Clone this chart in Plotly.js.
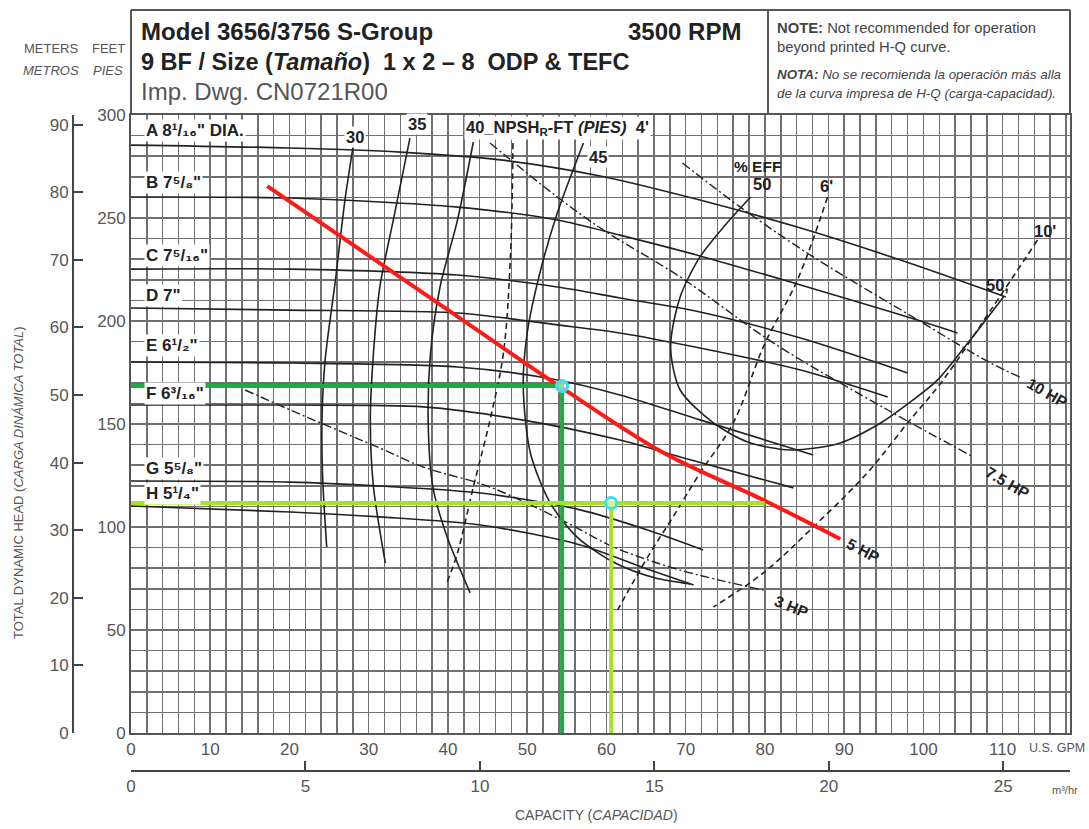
<!DOCTYPE html>
<html>
<head>
<meta charset="utf-8">
<script src="https://cdn.plot.ly/plotly-3.0.1.min.js"></script>
<style>html,body{margin:0;padding:0;background:#fff;}#chart{width:1089px;height:829px;}</style>
</head>
<body>
<div id="chart"></div>
<script>
// ---------- DATA (capacity in U.S. GPM, head in feet) ----------
const hqLabels = ['A 8¹/₁₆" DIA.', 'B 7⁵/₈"', 'C 7⁵/₁₆"', 'D 7"', 'E 6¹/₂"', 'F 6³/₁₆"', 'G 5⁵/₈"', 'H 5¹/₄"'];
const hqLabelHead = [292.7, 267, 232, 212.6, 188.3, 165, 128.6, 116.5];

const aQ = [0, 20, 34, 46.6, 59.2, 71.8, 84.5, 97.1, 110.4];
const aH = [285.4, 284, 282, 278.2, 270.4, 258.7, 245.1, 229.6, 211.7];
const bQ = [0, 20.1, 41.2, 53.8, 61.7, 71.8, 84.5, 97.1, 104.3];
const bH = [260.2, 259.7, 255.3, 249, 241.7, 231.6, 217.5, 203, 194.2];
const cQ = [0, 20.1, 41.2, 53.8, 61.7, 71.8, 84.5, 98.0];
const cH = [225.2, 225.2, 222.3, 216.5, 211.2, 204.4, 191.7, 174.8];
const dQ = [0, 20.1, 41.2, 53.8, 61.7, 71.8, 84.5, 95.5];
const dH = [206.3, 205.3, 203.9, 198.1, 194.2, 186.9, 176.2, 163.1];
const eQ = [0, 20.1, 41.2, 52.5, 61.7, 71.8, 86.1];
const eH = [180.1, 179.6, 177.7, 172.3, 164.1, 152, 135];
const fQ = [0, 20.1, 36.9, 49.5, 61.7, 69.3, 83.6];
const fH = [159.2, 159.2, 158.3, 151.9, 142.2, 134, 119];
const gQ = [0, 20.1, 31.4, 44.1, 56.7, 65.2, 72.2];
const gH = [122.3, 121.8, 119.9, 116.5, 108.3, 98.5, 88.8];
const hQ = [0, 20.1, 31.4, 44.1, 56.7, 65.5, 71];
const hH = [110.2, 107.3, 104.9, 101, 91.3, 79.1, 71.8];

// efficiency curves (%)
const eff30Q = [28.0, 27.0, 25.8, 24.5, 24.1, 24.2, 24.7];
const eff30H = [284, 258.7, 219.9, 181.1, 151.9, 122.8, 90.3];
const eff35Q = [35.2, 33.1, 31.4, 30.6, 30.2, 30.6, 32.1];
const eff35H = [288.8, 249, 216.5, 184.5, 151.9, 119.4, 82.5];
const eff40Q = [43.2, 41.2, 39.0, 37.8, 37.5, 38.1, 39.9, 42.8];
const eff40H = [286.9, 249, 216.5, 184.5, 151.9, 119.4, 95.1, 68.0];
const eff45Q = [57.1, 53.8, 51.6, 50, 49.5, 50.4, 52.9, 56.3, 61.1, 66.2, 70.6];
const eff45H = [286.4, 252.4, 223.3, 194.2, 168, 135.9, 111.7, 95.1, 82.5, 75.2, 72.3];
const eff50Q = [78.2, 75, 71.8, 69.3, 68.1, 69.3, 73.5, 77.8, 83.2, 89.5, 94.6, 98.7, 101.8, 105.6, 110.1];
const eff50H = [260.2, 246.6, 231.1, 211.7, 187.4, 166.5, 150.5, 141.3, 137.4, 140.8, 150.5, 161.7, 171.4, 189.3, 211.7];

// NPSHr curves (ft)
const npsh4Q = [48.2, 47.9, 47, 45.3, 43.2, 41.2, 39.9];
const npsh4H = [286.4, 233, 184.5, 151.9, 119.4, 87.4, 73.3];
const npsh6Q = [87.9, 84.1, 79.9, 76.0, 71.8, 68.4, 65.2, 61.4];
const npsh6H = [260.2, 219.9, 188.3, 150.5, 126.2, 104.9, 85.4, 59.7];
const npsh10Q = [114.4, 108.5, 102.5, 98.0, 92.9, 86.1, 79.8, 73.5];
const npsh10H = [239.3, 205.3, 171.4, 150.5, 126.2, 100, 77.7, 61.2];

// horsepower curves
const hp10Q = [69.6, 76.9, 86.1, 98.7, 108.5, 112.2];
const hp10H = [276.7, 255.3, 231.1, 201.9, 179.6, 172.8];
const hp75Q = [45.3, 53.8, 59.6, 69.3, 81.1, 95.5, 106.3];
const hp75H = [286.4, 260.2, 244.2, 221.4, 189.3, 156.8, 134];
const hp5Q = [17.2, 43.7, 54.2, 67.2, 79.8, 89.5];
const hp5H = [265.5, 195.6, 168, 136, 113.1, 94.2];
const hp3Q = [14.4, 20.1, 31.4, 36.9, 45.3, 55.1, 60.9, 69.3, 79.8];
const hp3H = [166.5, 156.8, 138.3, 129.1, 119.4, 101.9, 90.3, 79.1, 69.4];

// operating-point markups
const dutyDarkQ = [0, 54.4, 54.4];
const dutyDarkH = [168.4, 168.4, 0];
const dutyLightQ = [0, 80, null, 60.6, 60.6];
const dutyLightH = [111.7, 111.7, null, 111.7, 0];
const pointQ = [54.4, 60.6];
const pointH = [168.4, 111.7];

const gpmTicks = [0, 10, 20, 30, 40, 50, 60, 70, 80, 90, 100, 110];
const m3hTicks = [0, 5, 10, 15, 20, 25];
const feetTicks = [0, 50, 100, 150, 200, 250, 300];
const meterTicks = [0, 10, 20, 30, 40, 50, 60, 70, 80, 90];

const GPM_MAX = 118.5, FT_MAX = 300;
const GPM_GRID_STEP = 2, FT_GRID_STEP = 10;
const FT_PER_M = 3.28084, M3H_PER_GPM = 0.227125;

// ---------- LAYOUT HELPERS ----------
const W = 1089, H = 829, ML = 73, MR = 19, MT = 115, MB = 58;
const PW = W - ML - MR, PH = H - MT - MB;
const PX = px => (px - ML) / PW;
const PY = py => (H - MB - py) / PH;
const xDom = [PX(131), 1];
const yDom = [PY(733), 1];

// uniform grid: a tick every grid step, labelled only at the label ticks
function gridTicks(max, step, labelled) {
  const vals = [], text = [];
  for (let v = 0; v <= max + 1e-9; v += step) {
    const r = Math.round(v * 1000) / 1000;
    vals.push(r);
    text.push(labelled.indexOf(r) >= 0 ? String(r) : ' ');
  }
  return {vals, text};
}
const xg = gridTicks(GPM_MAX, GPM_GRID_STEP, gpmTicks);
const yg = gridTicks(FT_MAX, FT_GRID_STEP, feetTicks);

const SANS = '"Liberation Sans", Arial, sans-serif';
const GREY = '#555';

function curve(q, h, opt) {
  return Object.assign({
    x: q, y: h, type: 'scatter', mode: 'lines', hoverinfo: 'skip', showlegend: false,
    line: {color: '#222', width: 1.6, shape: 'spline', smoothing: 0.8}
  }, opt || {});
}
const dashDot = '9px,3px,2px,3px';
const dashed = '6px,4px';

const traces = [
  curve(aQ, aH), curve(bQ, bH), curve(cQ, cH), curve(dQ, dH),
  curve(eQ, eH), curve(fQ, fH), curve(gQ, gH), curve(hQ, hH),
  curve(eff30Q, eff30H), curve(eff35Q, eff35H), curve(eff40Q, eff40H),
  curve(eff45Q, eff45H), curve(eff50Q, eff50H),
  curve(npsh4Q, npsh4H, {line: {color: '#222', width: 1.6, dash: dashed, shape: 'spline'}}),
  curve(npsh6Q, npsh6H, {line: {color: '#222', width: 1.6, dash: dashed, shape: 'spline'}}),
  curve(npsh10Q, npsh10H, {line: {color: '#222', width: 1.6, dash: dashed, shape: 'spline'}}),
  curve(hp10Q, hp10H, {line: {color: '#222', width: 1.4, dash: dashDot, shape: 'spline'}}),
  curve(hp75Q, hp75H, {line: {color: '#222', width: 1.4, dash: dashDot, shape: 'spline'}}),
  curve(hp3Q, hp3H, {line: {color: '#222', width: 1.4, dash: dashDot, shape: 'spline'}}),
  curve(hp5Q, hp5H, {line: {color: '#ff1a1a', width: 4, shape: 'spline'}}),
  curve(dutyDarkQ, dutyDarkH, {line: {color: '#1faa45', width: 4}}),
  curve(dutyLightQ, dutyLightH, {line: {color: '#a6e22a', width: 4}}),
  {x: pointQ, y: pointH, type: 'scatter', mode: 'markers', hoverinfo: 'skip', showlegend: false,
   marker: {symbol: 'circle', size: 11, color: 'rgba(255,255,255,0.5)', line: {color: '#35e3f0', width: 3}}},
  // invisible traces to activate secondary axes
  {x: [0], y: [0], yaxis: 'y2', type: 'scatter', mode: 'markers', marker: {opacity: 0}, hoverinfo: 'skip', showlegend: false},
  {x: [0], y: [0], xaxis: 'x2', type: 'scatter', mode: 'markers', marker: {opacity: 0}, hoverinfo: 'skip', showlegend: false}
];

const gridC = '#707070';
const annotations = [];
function note(text, x, y, o) {
  annotations.push(Object.assign({text: text, x: x, y: y, showarrow: false, xref: 'x', yref: 'y',
    font: {family: SANS, size: 15, color: '#222'}}, o || {}));
}
function pnote(text, px, py, o) {
  annotations.push(Object.assign({text: text, x: PX(px), y: PY(py), showarrow: false, xref: 'paper', yref: 'paper',
    xanchor: 'left', yanchor: 'middle', font: {family: SANS, size: 15, color: '#222'}}, o || {}));
}

// impeller labels
hqLabels.forEach((t, i) => note('<b>' + t + '</b>', 1.6, hqLabelHead[i],
  {xanchor: 'left', yanchor: 'middle', bgcolor: '#fff', font: {family: SANS, size: 17, color: '#222'}}));

const bold = {family: SANS, size: 16.5, color: '#222'};
const bold2 = {family: SANS, size: 15.5, color: '#222'};
note('<b>30</b>', 28.3, 289.3, {bgcolor: '#fff', font: bold});
note('<b>35</b>', 36.1, 295.6, {bgcolor: '#fff', font: bold});
note('<b>40_NPSH<sub>R</sub>-FT <i>(PIES)</i>  4\'</b>', 42.0, 293.7, {xanchor: 'left', bgcolor: '#fff', font: bold});
note('<b>45</b>', 58.9, 279.4, {bgcolor: '#fff', font: bold});
note('<b>% EFF</b>', 79.0, 274.8, {font: bold2});
note('<b>50</b>', 79.6, 266.5, {font: bold});
note('<b>6\'</b>', 87.8, 265.5, {font: bold});
note('<b>10\'</b>', 115.3, 243.5, {font: bold});
note('<b>50,</b>', 109.3, 217.5, {font: bold});
note('<b>10 HP</b>', 115.6, 165.5, {textangle: 30, font: bold2});
note('<b>7.5 HP</b>', 110.6, 121.8, {textangle: 30, font: bold2});
note('<b>5 HP</b>', 92.4, 88.8, {textangle: 28, font: bold2});
note('<b>3 HP</b>', 83.3, 61.2, {textangle: 22, font: bold2});

// header
const hfont = {family: SANS, size: 24, color: '#222'};
pnote('<b>Model 3656/3756 S-Group</b>', 139, 31, {font: hfont});
pnote('<b>3500 RPM</b>', 743, 31, {xanchor: 'right', font: hfont});
pnote('<b>9 BF / Size (<i>Tamaño</i>)  1 x 2 – 8  ODP & TEFC</b>', 139, 62, {font: {family: SANS, size: 23.5, color: '#222'}});
pnote('Imp. Dwg. CN0721R00', 139, 92, {font: {family: SANS, size: 24, color: '#555'}});
pnote('<b>NOTE:</b> Not recommended for operation', 775, 28, {font: {family: SANS, size: 14.8, color: '#444'}});
pnote('beyond printed H-Q curve.', 775, 47, {font: {family: SANS, size: 14.8, color: '#444'}});
pnote('<b><i>NOTA:</i></b><i> No se recomienda la operación más alla</i>', 775, 75, {font: {family: SANS, size: 13.4, color: '#444'}});
pnote('<i>de la curva impresa de H-Q (carga-capacidad).</i>', 775, 93, {font: {family: SANS, size: 13.4, color: '#444'}});

// axis captions
const cap = {family: SANS, size: 13, color: GREY};
pnote('METERS', 51, 48, {xanchor: 'center', font: cap});
pnote('<i>METROS</i>', 51, 70, {xanchor: 'center', font: cap});
pnote('FEET', 108, 48, {xanchor: 'center', font: cap});
pnote('<i>PIES</i>', 108, 70, {xanchor: 'center', font: cap});
pnote('TOTAL DYNAMIC HEAD (<i>CARGA DINÁMICA TOTAL</i>)', 18, 483, {xanchor: 'center', textangle: -90, font: cap});
pnote('CAPACITY (<i>CAPACIDAD</i>)', 596, 815, {xanchor: 'center', font: {family: SANS, size: 14, color: GREY}});
pnote('U.S. GPM', 1027, 748, {font: {family: SANS, size: 12.5, color: GREY}});
pnote('m³/hr', 1050, 790, {font: {family: SANS, size: 11, color: GREY}});

const hdr = {type: 'line', xref: 'paper', yref: 'paper', line: {color: '#555', width: 2}};
const shapes = [
  Object.assign({x0: PX(131), x1: PX(1070), y0: PY(10), y1: PY(10)}, hdr),
  Object.assign({x0: PX(131), x1: PX(131), y0: PY(10), y1: PY(115)}, hdr),
  Object.assign({x0: PX(1070), x1: PX(1070), y0: PY(10), y1: PY(115)}, hdr),
  Object.assign({x0: PX(768), x1: PX(768), y0: PY(10), y1: PY(115)}, hdr)
];

const tickFont = {family: SANS, size: 17, color: GREY};
const layout = {
  width: W, height: H,
  margin: {l: ML, r: MR, t: MT, b: MB, pad: 0},
  paper_bgcolor: '#fff', plot_bgcolor: '#fff',
  showlegend: false,
  xaxis: {
    domain: xDom, range: [0, GPM_MAX], tickmode: 'array', tickvals: xg.vals, ticktext: xg.text, ticks: '',
    tickangle: 0,
    showgrid: true, gridcolor: gridC, gridwidth: 1.5, zeroline: false,
    showline: true, linecolor: GREY, linewidth: 2, mirror: true,
    tickfont: tickFont, fixedrange: true, automargin: false
  },
  yaxis: {
    domain: yDom, range: [0, FT_MAX], tickmode: 'array', tickvals: yg.vals, ticktext: yg.text, ticks: '',
    showgrid: true, gridcolor: gridC, gridwidth: 1.5, zeroline: false,
    showline: true, linecolor: GREY, linewidth: 2, mirror: true,
    tickfont: tickFont, fixedrange: true, automargin: false
  },
  yaxis2: {
    overlaying: 'y', anchor: 'free', position: 0, side: 'left',
    range: [0, FT_MAX / FT_PER_M], tickvals: meterTicks, ticks: 'inside', ticklen: 9, tickwidth: 2, tickcolor: '#444',
    showline: true, linecolor: '#444', linewidth: 2, showgrid: false, zeroline: false,
    tickfont: tickFont, fixedrange: true, automargin: false
  },
  xaxis2: {
    overlaying: 'x', anchor: 'free', position: 0, side: 'bottom',
    range: [0, GPM_MAX * M3H_PER_GPM], tickvals: m3hTicks, ticks: 'inside', ticklen: 9, tickwidth: 2, tickcolor: '#444',
    tickangle: 0,
    showline: true, linecolor: '#444', linewidth: 2, showgrid: false, zeroline: false,
    tickfont: tickFont, fixedrange: true, automargin: false
  },
  annotations: annotations,
  shapes: shapes
};

Plotly.newPlot('chart', traces, layout, {staticPlot: true, displayModeBar: false});
</script>
</body>
</html>
